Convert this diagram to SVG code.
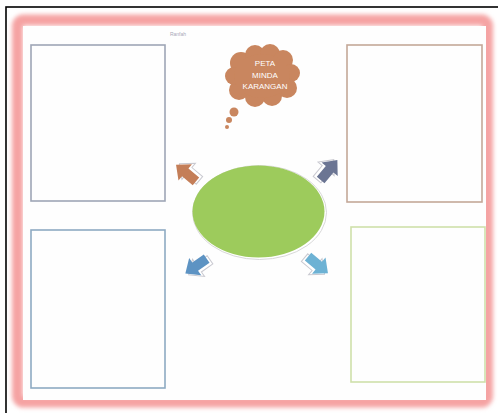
<svg xmlns="http://www.w3.org/2000/svg" width="498" height="413" viewBox="0 0 498 413">
<defs>
<style>
.box{fill:none;stroke-width:1.6}
.lbl{font-family:"Liberation Sans",Arial,sans-serif;font-size:8px;fill:#ffffff;text-anchor:middle}
.shade{fill:#ffffff;stroke:#c9c9d0;stroke-width:1}
</style>
<filter id="blur" x="-5%" y="-5%" width="110%" height="110%"><feGaussianBlur stdDeviation="2"/></filter>
<filter id="soft" x="-10%" y="-10%" width="120%" height="120%"><feGaussianBlur stdDeviation="0.6"/></filter>
<polygon id="arr" points="-13,-5 1,-5 1,-10.5 13,0 1,10.5 1,5 -13,5"/>
</defs>
<rect width="498" height="413" fill="#ffffff"/>
<rect x="6" y="7" width="500" height="420" fill="none" stroke="#000000" stroke-width="1.6"/>
<rect x="17.5" y="20" width="470" height="382" rx="6" fill="none" stroke="#f5a3a3" stroke-width="11" filter="url(#blur)"/>
<rect x="23" y="26" width="463" height="374" fill="#fefefe"/>
<text x="178" y="36" font-family="Liberation Sans, Arial, sans-serif" font-size="5" fill="#a8a8b8" text-anchor="middle">Ranfah</text>
<g id="box-top-left"><rect class="box" x="31" y="45" width="134" height="156" stroke="#9ea6b6"/></g>
<g id="box-top-right"><rect class="box" x="347" y="45" width="135" height="157" stroke="#c4a898"/></g>
<g id="box-bottom-left"><rect class="box" x="31" y="230" width="134" height="158" stroke="#8eaac2"/></g>
<g id="box-bottom-right"><rect class="box" x="351" y="227" width="134" height="155" stroke="#cfe0aa"/></g>
<g id="title-cloud">
<g fill="#c9865e" filter="url(#soft)">
<circle cx="241" cy="63" r="11"/>
<circle cx="255" cy="55" r="10"/>
<circle cx="270" cy="54" r="10"/>
<circle cx="283" cy="60" r="10"/>
<circle cx="291" cy="73" r="9"/>
<circle cx="287" cy="88" r="10"/>
<circle cx="272" cy="96" r="10"/>
<circle cx="255" cy="97" r="10"/>
<circle cx="239" cy="90" r="10"/>
<circle cx="234" cy="76" r="9"/>
<ellipse cx="262" cy="76" rx="28" ry="22"/>
<circle cx="234" cy="112" r="4.5"/>
<circle cx="229" cy="120" r="3"/>
<circle cx="227" cy="127" r="2"/>
</g>
<text class="lbl" x="265" y="66">PETA</text>
<text class="lbl" x="265" y="78">MINDA</text>
<text class="lbl" x="265" y="89">KARANGAN</text>
</g>
<g id="centre">
<ellipse cx="259.5" cy="212.5" rx="67" ry="47" fill="#ffffff" stroke="#d8d8d8" stroke-width="1"/>
<ellipse cx="258.5" cy="211.5" rx="66" ry="46" fill="#9dcb5c"/>
</g>
<g id="connectors">
<g transform="translate(186,173) rotate(-140)"><use href="#arr" class="shade" transform="translate(-2,3)"/><use href="#arr" fill="#c47e58"/></g>
<g transform="translate(329,170) rotate(-50)"><use href="#arr" class="shade" transform="translate(-2,-3)"/><use href="#arr" fill="#6b7593"/></g>
<g transform="translate(196,266) rotate(145)"><use href="#arr" class="shade" transform="translate(-2,-3)"/><use href="#arr" fill="#5d93c3"/></g>
<g transform="translate(318,265) rotate(40)"><use href="#arr" class="shade" transform="translate(-2,3)"/><use href="#arr" fill="#6db2d4"/></g>
</g>
</svg>
